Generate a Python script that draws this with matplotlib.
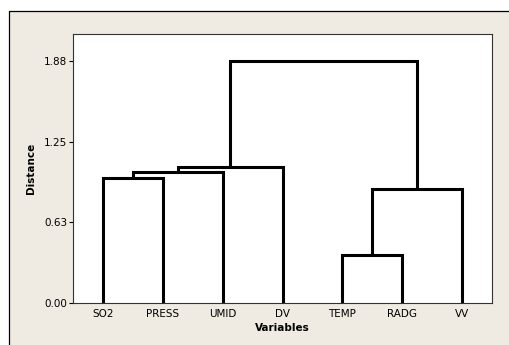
#!/usr/bin/env python3
"""
Dendrogram (Minitab style) of the air-quality variables, single panel.
Saves out.png at ~509x345 px.
"""

import matplotlib
matplotlib.use('Agg')
import matplotlib.pyplot as plt
from matplotlib.patches import Rectangle
from matplotlib.lines import Line2D

# leaf labels in plotted order
labels = ['SO2', 'PRESS', 'UMID', 'DV', 'TEMP', 'RADG', 'VV']

# linkage steps: cluster ids < 7 are leaves, 7+ are earlier merges
merge_left = [0, 7, 8, 4, 10, 9]
merge_right = [1, 2, 3, 5, 6, 11]
merge_height = [0.973, 1.015, 1.056, 0.370, 0.885, 1.880]

ytick_vals = [0.0, 0.6266, 1.2531, 1.8797]
ytick_labels = ['0.00', '0.63', '1.25', '1.88']

BG = '#efebe2'
LW = 2.2


def main():
    fig = plt.figure(figsize=(5.09, 3.45), dpi=100)
    fig.patch.set_facecolor('white')

    # beige panel, black edge only on top and left (it runs off the image)
    W, H = 509.0, 345.0
    x0, y1 = 8.5 / W, (H - 10.5) / H
    fig.patches.append(Rectangle((x0, 0), 1 - x0, y1,
                                 transform=fig.transFigure, facecolor=BG,
                                 edgecolor='none', zorder=-5))
    fig.lines.append(Line2D([x0, x0, 1], [0, y1, y1], color='black',
                            lw=0.9, transform=fig.transFigure, zorder=-4))

    ax = fig.add_axes([73 / W, (H - 303) / H, 419 / W, (303 - 34) / H])
    ax.set_zorder(2)
    ax.set_facecolor('white')

    # x position / height of each cluster (leaves sit at 1..n, height 0)
    n = len(labels)
    xpos = {i: i + 1.0 for i in range(n)}
    hgt = {i: 0.0 for i in range(n)}
    for k, (a, b, h) in enumerate(zip(merge_left, merge_right, merge_height)):
        xa, xb = xpos[a], xpos[b]
        ax.plot([xa, xa, xb, xb], [hgt[a], h, h, hgt[b]],
                color='black', lw=LW, solid_joinstyle='miter',
                solid_capstyle='butt')
        cid = n + k
        xpos[cid] = (xa + xb) / 2
        hgt[cid] = h

    ax.set_xlim(0.5, n + 0.5)
    ax.set_ylim(0, 2.09)

    ax.set_xticks(range(1, n + 1))
    ax.set_xticklabels(labels)
    ax.set_yticks(ytick_vals)
    ax.set_yticklabels(ytick_labels)
    ax.tick_params(axis='x', length=0, pad=4, labelsize=7.5)
    ax.tick_params(axis='y', length=3, width=0.8, pad=1, labelsize=7.5,
                   direction='out')

    for sp in ax.spines.values():
        sp.set_linewidth(0.8)
        sp.set_color('#333333')

    ax.set_xlabel('Variables', fontsize=7.5, fontweight='bold', labelpad=3)
    ax.set_ylabel('Distance', fontsize=7.5, fontweight='bold', labelpad=6)

    fig.savefig('out.png', dpi=100, facecolor=fig.get_facecolor())


if __name__ == '__main__':
    main()
